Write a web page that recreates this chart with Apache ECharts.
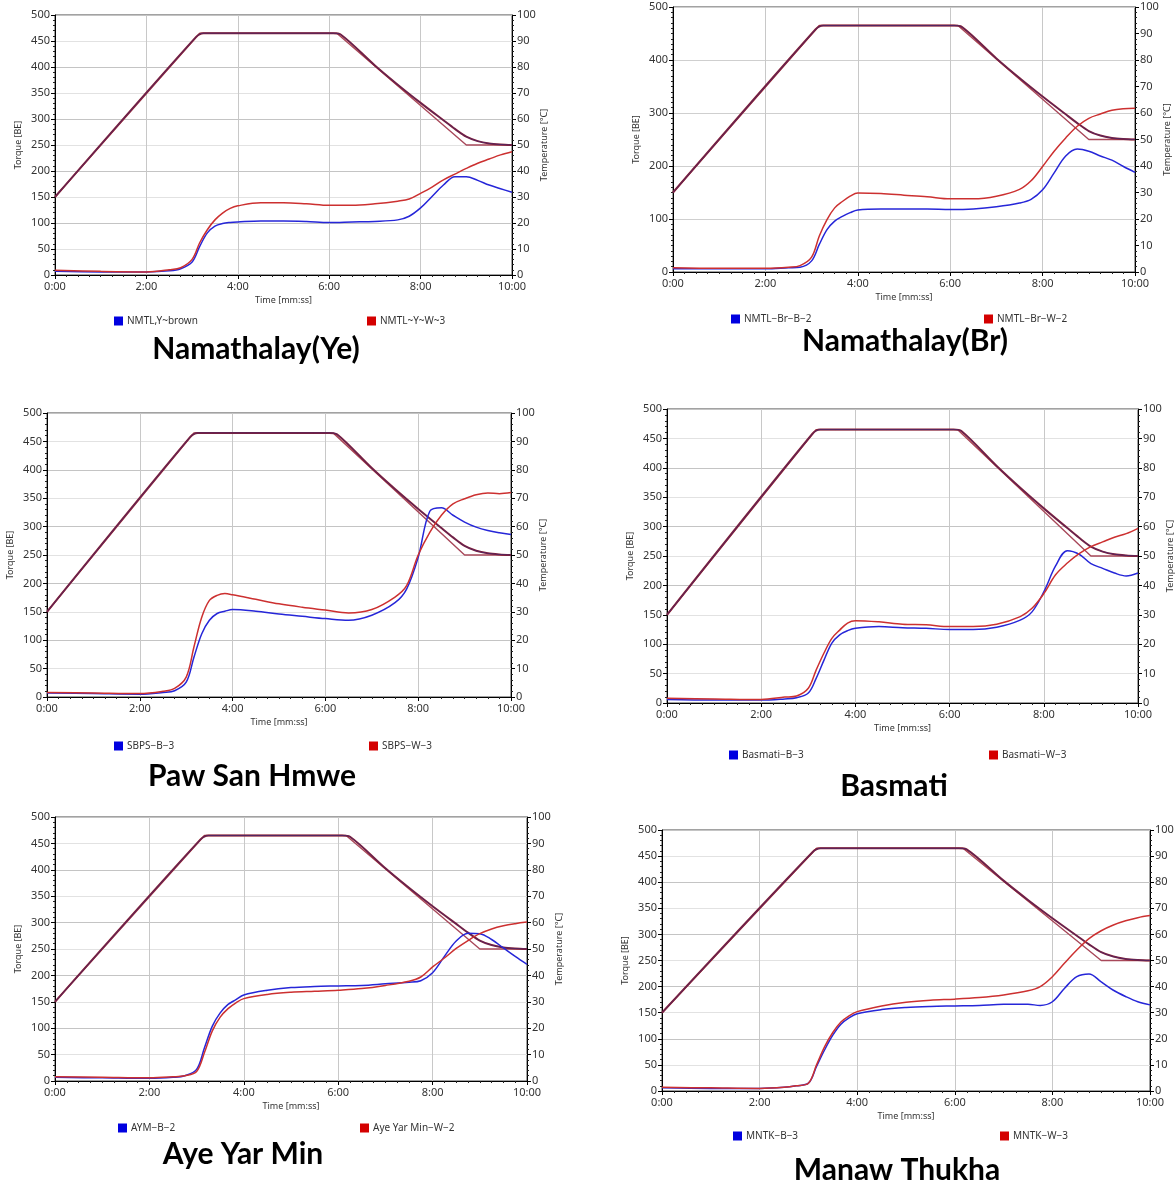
<!DOCTYPE html>
<html><head><meta charset="utf-8">
<script src="https://cdn.jsdelivr.net/npm/echarts@6/dist/echarts.min.js"></script>
<style>html,body{margin:0;padding:0;background:#fff}#c{width:1176px;height:1182px}</style>
</head><body><div id="c"></div>
<script>
// ---- data ----
const timeSec = [0,60,120,150,165,180,190,200,210,220,230,240,270,300,330,360,390,420,450,465,480,495,510,525,540,555,570,585,600];
const tickLabelsX = ['0:00','2:00','4:00','6:00','8:00','10:00'];

const yeBrown = [7,6,6,8,12,25,55,81,94,99,101,102,104,104,103,101,102,103,106,113,129,151,173,189,189,182,173,166,159];
const yeWhite = [9,7,6,10,14,30,62,87,106,119,128,133,139,139,137,134,134,137,142,146,157,169,183,194,205,215,223,231,237];
const brBrown = [6,6,6,8,9,21,52,80,96,105,112,117,119,119,119,118,119,123,130,137,155,187,219,232,228,219,211,199,188];
const brWhite = [8,7,7,9,12,28,68,99,121,133,143,149,148,145,142,138,138,143,156,172,199,228,253,275,290,298,305,308,309];
const psBrown = [7,6,5,8,11,26,70,111,135,147,151,154,151,146,142,138,135,144,166,190,246,327,333,320,308,299,293,289,286];
const psWhite = [8,7,6,10,15,35,88,140,170,179,182,180,172,164,158,153,148,154,176,196,250,290,320,340,349,356,359,358,360];
const basBrown = [6,5,5,7,9,17,42,73,102,116,123,127,130,128,127,125,125,129,141,155,189,233,259,253,237,229,221,216,221];
const basWhite = [8,7,6,10,12,25,56,85,110,124,136,140,138,134,133,130,130,134,147,161,186,218,238,254,266,274,282,288,297];
const aymBrown = [7,6,5,7,10,22,63,104,129,145,154,163,172,177,179,180,181,184,187,190,205,236,265,280,279,268,252,236,221];
const aymWhite = [8,7,6,8,10,18,54,95,121,137,148,156,164,168,170,172,175,181,189,197,216,233,251,266,279,288,294,298,301];
const mntkBrown = [6,5,5,7,10,15,47,79,107,128,140,148,156,160,162,163,164,166,166,164,171,197,219,224,209,193,181,171,165];
const mntkWhite = [7,6,5,7,10,15,50,85,112,132,144,152,163,170,174,176,179,184,192,200,219,245,270,292,307,318,326,332,336];

const tempSetTime = [0,190,370,540,600];
const tempSet = [30,93,93,50,50];
const tempMeasTime = [0,185,195,365,375,420,450,480,510,525,540,555,570,585,600];
const tempMeas = [30,91.5,93,93,92.5,80.6,73.2,66.2,59.5,56.2,53.2,51.5,50.6,50.2,50];

const panelTitles = ['Namathalay(Ye)','Namathalay(Br)','Paw San Hmwe','Basmati','Aye Yar Min','Manaw Thukha'];
const blueNames = ['NMTL,Y~brown','NMTL\u2212Br\u2212B\u22122','SBPS\u2212B\u22123','Basmati\u2212B\u22123','AYM\u2212B\u22122','MNTK\u2212B\u22123'];
const redNames = ['NMTL~Y~W~3','NMTL\u2212Br\u2212W\u22122','SBPS\u2212W\u22123','Basmati\u2212W\u22123','Aye Yar Min\u2212W\u22122','MNTK\u2212W\u22123'];
const blueTorque = [yeBrown, brBrown, psBrown, basBrown, aymBrown, mntkBrown];
const redTorque = [yeWhite, brWhite, psWhite, basWhite, aymWhite, mntkWhite];
const torqueStep = [50,100,50,50,50,50];

// ---- layout (pixels) ----
const layout = [
  {l:55, r:512, t:15, b:275, lb:[114,316], lr:[367,316], tt:[256,349]},
  {l:673, r:1135, t:7, b:272, lb:[731,314], lr:[984,314], tt:[905,341]},
  {l:47, r:511, t:413, b:697, lb:[114,741], lr:[369,741], tt:[252,776]},
  {l:667, r:1138, t:409, b:703, lb:[729,750], lr:[989,750], tt:[894,786]},
  {l:55, r:527, t:817, b:1081, lb:[118,1123], lr:[360,1123], tt:[243,1154]},
  {l:662, r:1150, t:830, b:1091, lb:[733,1131], lr:[1000,1131], tt:[897,1170]}
];

const FONT = 'Noto Sans';
const fmtTime = v => { const m = Math.floor(v/60), s = Math.round(v%60); return m + ':' + (s<10?'0':'') + s; };

const grids = [], xAxes = [], yAxes = [], series = [], legends = [], graphics = [];
layout.forEach((p, i) => {
  grids.push({left:p.l, top:p.t, width:p.r-p.l, height:p.b-p.t, show:true, borderColor:'#444', borderWidth:1,
    backgroundColor:'#fff', containLabel:false, outerBoundsMode:'none'});
  xAxes.push({
    type:'value', gridIndex:i, min:0, max:600, interval:120,
    name:'Time [mm:ss]', nameLocation:'middle', nameGap:21,
    nameTextStyle:{fontFamily:FONT, fontSize:9, color:'#333'},
    axisLine:{lineStyle:{color:'#000', width:1}},
    axisTick:{show:true, length:4, lineStyle:{color:'#000'}},
    minorTick:{show:true, splitNumber:8, length:2, lineStyle:{color:'#222'}},
    axisLabel:{formatter:fmtTime, fontFamily:FONT, fontSize:11, color:'#333', margin:6},
    splitLine:{show:true, lineStyle:{color:'#c8c8c8', width:1}}
  });
  const step = torqueStep[i];
  yAxes.push({
    type:'value', gridIndex:i, position:'left', min:0, max:500, interval:step,
    name:'Torque [BE]', nameLocation:'middle', nameGap:32, nameRotate:90,
    nameTextStyle:{fontFamily:FONT, fontSize:9, color:'#333'},
    axisLine:{show:true, lineStyle:{color:'#000', width:1}},
    axisTick:{show:true, length:4, lineStyle:{color:'#000'}},
    minorTick:{show:true, splitNumber:step===100?10:5, length:2, lineStyle:{color:'#222'}},
    axisLabel:{fontFamily:FONT, fontSize:11, color:'#333', margin:5},
    splitLine:{show:true, lineStyle:{color: step===100 ? ['#cfcfcf'] : ['#c4c4c4','#e2e2e2'], width:1}}
  });
  yAxes.push({
    type:'value', gridIndex:i, position:'right', min:0, max:100, interval:10,
    name:'Temperature [\u00b0C]', nameLocation:'middle', nameGap:25, nameRotate:90,
    nameTextStyle:{fontFamily:FONT, fontSize:9, color:'#333'},
    axisLine:{show:true, lineStyle:{color:'#000', width:1}},
    axisTick:{show:true, length:4, lineStyle:{color:'#000'}},
    minorTick:{show:true, splitNumber:5, length:2, lineStyle:{color:'#222'}},
    axisLabel:{fontFamily:FONT, fontSize:11, color:'#333', margin:5},
    splitLine:{show:false}
  });
  const yl = i*2, yr = i*2+1;
  series.push({name:'tempSet'+i, type:'line', xAxisIndex:i, yAxisIndex:yr, symbol:'none', silent:true,
    data: tempSetTime.map((t,k)=>[t,tempSet[k]]), lineStyle:{color:'#a8485a', width:1.4}, z:2});
  series.push({name:'tempMeasR'+i, type:'line', xAxisIndex:i, yAxisIndex:yr, symbol:'none', silent:true, smooth:0.3,
    data: tempMeasTime.map((t,k)=>[t,tempMeas[k]]), lineStyle:{color:'#8a1f30', width:2}, z:3});
  series.push({name:'tempMeasB'+i, type:'line', xAxisIndex:i, yAxisIndex:yr, symbol:'none', silent:true, smooth:0.3,
    data: tempMeasTime.map((t,k)=>[t,tempMeas[k]]), lineStyle:{color:'#2a2a8a', width:0.8, opacity:0.75}, z:4});
  series.push({name:blueNames[i], type:'line', xAxisIndex:i, yAxisIndex:yl, symbol:'none', smooth:0.35,
    data: timeSec.map((t,k)=>[t,blueTorque[i][k]]), lineStyle:{color:'#2626d8', width:1.5}, itemStyle:{color:'#0000e0'}, z:5});
  series.push({name:redNames[i], type:'line', xAxisIndex:i, yAxisIndex:yl, symbol:'none', smooth:0.35,
    data: timeSec.map((t,k)=>[t,redTorque[i][k]]), lineStyle:{color:'#cc3030', width:1.5}, itemStyle:{color:'#d40000'}, z:5});
  const legStyle = {icon:'rect', itemWidth:9, itemHeight:9, padding:0, textStyle:{fontFamily:FONT, fontSize:10, color:'#333', padding:[0,0,0,-1]}, itemGap:0};
  legends.push(Object.assign({left:p.lb[0], top:p.lb[1], data:[blueNames[i]]}, legStyle));
  legends.push(Object.assign({left:p.lr[0], top:p.lr[1], data:[redNames[i]]}, legStyle));
  graphics.push({type:'text', x:p.tt[0], y:p.tt[1], style:{text:panelTitles[i], fontFamily:'Lato', fontWeight:'bold', fontSize:30, fill:'#000', align:'center', verticalAlign:'middle'}});
});

const chart = echarts.init(document.getElementById('c'), null, {renderer:'canvas'});
chart.setOption({
  animation:false,
  backgroundColor:'#fff',
  grid:grids, xAxis:xAxes, yAxis:yAxes, series:series, legend:legends, graphic:graphics
});
</script></body></html>
